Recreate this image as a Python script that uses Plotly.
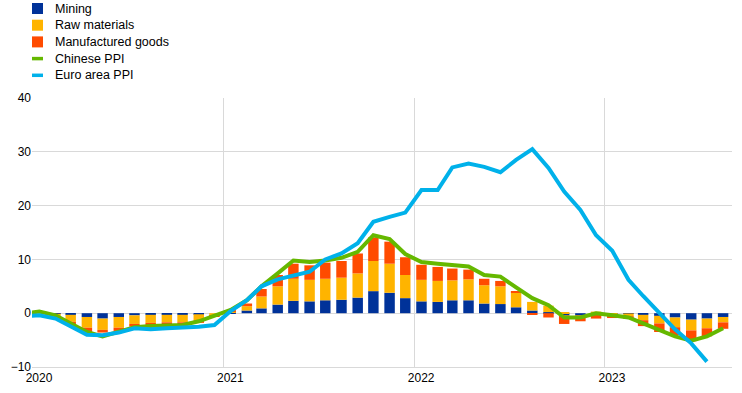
import pandas as pd
import plotly.graph_objects as go

# Monthly observations, Dec 2019 .. Aug 2023 (mid-month positions)
months = (pd.date_range("2019-12-01", "2023-08-01", freq="MS") + pd.Timedelta(days=14)).strftime("%Y-%m-%d").tolist()

mining = [None,
          0.0, -0.1, -0.3, -0.7, -1.0, -0.7, -0.4, -0.3, -0.3, -0.3, -0.2, 0.0,
          0.1, 0.5, 0.9, 1.6, 2.3, 2.2, 2.4, 2.5, 2.9, 4.1, 3.8, 2.8,
          2.2, 2.1, 2.4, 2.4, 1.8, 1.7, 1.1, 0.5, 0.2, -0.4, -0.4, 0.0,
          -0.1, -0.05, -0.3, -0.5, -0.8, -1.2, -1.0, -0.7]
raw_materials = [None,
                 0.0, -0.4, -1.3, -2.0, -2.1, -2.0, -1.6, -1.5, -1.4, -1.4, -1.2, -0.5,
                 0.3, 0.8, 2.2, 3.4, 4.1, 4.0, 4.0, 4.1, 4.5, 5.6, 5.4, 4.3,
                 4.0, 3.9, 3.7, 3.9, 3.4, 3.3, 2.7, 1.6, 1.2, 0.2, 0.0, 0.3,
                 -0.2, -0.5, -1.0, -1.4, -1.8, -2.0, -1.8, -1.0]
manufactured_goods = [None,
                      0.0, 0.0, -0.5, -0.8, -0.5, -0.6, -0.5, -0.4, -0.4, -0.4, -0.4, -0.1,
                      0.2, 0.5, 1.4, 2.1, 2.8, 2.7, 3.0, 3.1, 3.7, 4.4, 4.1, 3.3,
                      2.8, 2.6, 2.2, 1.8, 1.2, 1.0, 0.3, -0.3, -0.8, -1.6, -1.1, -1.0,
                      -0.6, -0.5, -1.1, -1.6, -1.5, -2.0, -1.5, -1.2]
chinese_ppi = [-0.1,
               0.3, -0.4, -2.0, -3.5, -4.3, -3.4, -2.6, -2.4, -2.3, -2.2, -1.5, -0.4,
               0.6, 2.4, 5.0, 7.4, 9.8, 9.5, 9.8, 10.3, 11.4, 14.5, 13.8, 11.0,
               9.5, 9.2, 8.9, 8.7, 7.1, 6.8, 4.8, 2.8, 1.5, -0.8, -0.8, 0.0,
               -0.4, -0.8, -1.9, -3.2, -4.3, -5.1, -4.3, -2.8]
euro_area_ppi = [-0.6,
                 -0.4, -1.0, -2.5, -4.0, -4.1, -3.6, -2.8, -3.0, -2.8, -2.7, -2.5, -2.2,
                 0.4, 2.4, 5.0, 6.3, 7.0, 7.7, 10.0, 11.1, 13.0, 17.0, 17.9, 18.7,
                 22.9, 22.9, 27.1, 27.8, 27.2, 26.2, 28.5, 30.5, 27.0, 22.6, 19.2, 14.5,
                 11.6, 6.2, 3.2, 0.0, -3.0, -5.6, -9.0, None]

y_ticks = [-10, 0, 10, 20, 30, 40]

series_names = ["Mining", "Raw materials", "Manufactured goods", "Chinese PPI", "Euro area PPI"]
series_colors = ["#003299", "#FFB400", "#FF4B00", "#65B800", "#00B1EA"]
series_kind = ["bar", "bar", "bar", "line", "line"]

W, H = 742, 393
M_L, M_R, M_T, M_B = 32, 10, 98, 26
PW, PH = W - M_L - M_R, H - M_T - M_B
BAR_W = 20 * 86400000  # bar width in ms on the date axis

fig = go.Figure()
for name, vals, col in zip(series_names[:3], [mining, raw_materials, manufactured_goods], series_colors[:3]):
    fig.add_trace(go.Bar(x=months, y=vals, name=name, marker_color=col,
                         marker_line_width=0, width=BAR_W))

fig.add_trace(go.Scatter(x=months, y=chinese_ppi, name=series_names[3], mode="lines",
                         line=dict(color=series_colors[3], width=4)))
fig.add_trace(go.Scatter(x=months, y=euro_area_ppi, name=series_names[4], mode="lines",
                         line=dict(color=series_colors[4], width=4)))


def px_x(px):
    return (px - M_L) / PW


def px_y(py):
    return (H - M_B - py) / PH


# Legend drawn in the top-left corner
shapes, annots = [], []
for i, (name, col, kind) in enumerate(zip(series_names, series_colors, series_kind)):
    cy = 8.5 + i * 16.7
    if kind == "bar":
        shapes.append(dict(type="rect", xref="paper", yref="paper", layer="above",
                           x0=px_x(32), x1=px_x(43), y0=px_y(cy + 5.5), y1=px_y(cy - 5.5),
                           fillcolor=col, line=dict(width=0)))
    else:
        shapes.append(dict(type="line", xref="paper", yref="paper", layer="above",
                           x0=px_x(32), x1=px_x(43), y0=px_y(cy), y1=px_y(cy),
                           line=dict(color=col, width=3.5)))
    annots.append(dict(text=name, xref="paper", yref="paper",
                       x=px_x(53), y=px_y(cy), xanchor="left", yanchor="middle",
                       showarrow=False, font=dict(size=12.5, color="#000000")))

fig.update_layout(
    width=W, height=H,
    margin=dict(l=M_L, r=M_R, t=M_T, b=M_B, autoexpand=False),
    barmode="relative",
    plot_bgcolor="white", paper_bgcolor="white",
    font=dict(family="Arial, Liberation Sans, sans-serif", size=12, color="#000000"),
    showlegend=False,
    xaxis=dict(type="date", range=["2020-01-01", "2023-09-01"],
               tick0="2020-01-01", dtick="M12", tickformat="%Y",
               ticklabelshift=7, showgrid=True, gridcolor="#d9d9d9", gridwidth=1,
               showline=True, linecolor="#d9d9d9", ticks="", zeroline=False),
    yaxis=dict(range=[-10, 40], tickvals=y_ticks, showgrid=True,
               gridcolor="#d9d9d9", gridwidth=1, zeroline=False,
               showline=False, ticks=""),
    shapes=shapes, annotations=annots,
)

fig.write_html("out.html", config={"displayModeBar": False},
               post_script="document.body.style.margin='0';")
